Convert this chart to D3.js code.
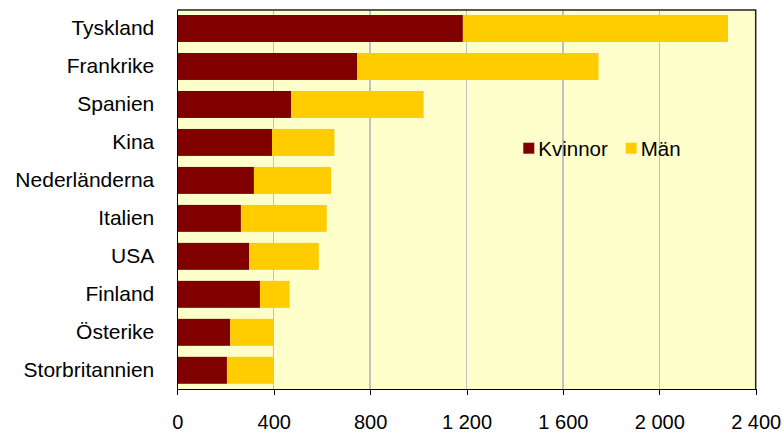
<!DOCTYPE html>
<meta charset="utf-8">
<style>
body {
  margin: 0;
  background-color: #FFFFFF;
}
.axis text {
  font-family: "Liberation Sans", Arial, sans-serif;
  font-size: 20px;
  fill: #000;
}
.axis path,
.axis line {
  stroke: #000;
  shape-rendering: crispEdges;
}
.grid line {
  stroke: #C0C0C0;
  stroke-width: 1.5px;
  shape-rendering: crispEdges;
}
.legend text {
  font-family: "Liberation Sans", Arial, sans-serif;
  font-size: 20.5px;
  fill: #000;
}
</style>
<body>
<script src="https://d3js.org/d3.v7.min.js"></script>
<script>
// countries top to bottom
var countries = ["Tyskland", "Frankrike", "Spanien", "Kina", "Nederländerna", "Italien", "USA", "Finland", "Österike", "Storbritannien"];
var kvinnor = [1185, 746, 472, 393, 318, 264, 298, 343, 220, 206];
var man = [1100, 1002, 550, 259, 320, 356, 289, 123, 181, 191];
var seriesNames = ["Kvinnor", "Män"];
var seriesColors = ["#800000", "#FFCC00"];
var xTicks = [0, 400, 800, 1200, 1600, 2000, 2400];

var svg = d3.select("body")
    .append("svg")
    .attr("width", 782)
    .attr("height", 437),
    margin = {top: 9.5, right: 26.3, bottom: 47.7, left: 177.3},
    width = 782 - margin.left - margin.right,
    height = 437 - margin.top - margin.bottom;

var g = svg.append("g")
    .attr("transform", "translate(" + margin.left + "," + margin.top + ")");

var x = d3.scaleLinear().domain([0, 2400]).range([0, width]);
var y = d3.scaleBand().domain(countries).range([0, height]).paddingInner(0.29).paddingOuter(0.145);

var data = countries.map(function(c, i) {
  return {country: c, Kvinnor: kvinnor[i], "Män": man[i]};
});
var stacked = d3.stack().keys(seriesNames)(data);

// plot background
g.append("rect")
    .attr("width", width)
    .attr("height", height)
    .attr("fill", "#FFFFCC");

// gridlines
g.append("g")
    .attr("class", "grid")
    .selectAll("line")
    .data(xTicks.slice(1, -1))
    .enter().append("line")
    .attr("x1", function(d) { return x(d); })
    .attr("x2", function(d) { return x(d); })
    .attr("y1", 0)
    .attr("y2", height);

// bars
g.selectAll(".series")
    .data(stacked)
    .enter().append("g")
    .attr("class", "series")
    .attr("fill", function(d, i) { return seriesColors[i]; })
  .selectAll("rect")
    .data(function(d) { return d; })
    .enter().append("rect")
    .attr("x", function(d) { return x(d[0]); })
    .attr("width", function(d) { return x(d[1]) - x(d[0]); })
    .attr("y", function(d) { return y(d.data.country); })
    .attr("height", y.bandwidth());

// frame top/right
g.append("path")
    .attr("d", "M0,0.5H" + width + "V" + height)
    .attr("fill", "none")
    .attr("stroke", "#222")
    .attr("stroke-width", 1.5);

g.append("g")
    .attr("class", "axis axis--x")
    .attr("transform", "translate(0," + height + ")")
    .call(d3.axisBottom(x)
      .tickValues(xTicks)
      .tickSize(6)
      .tickSizeOuter(0)
      .tickPadding(20)
      .tickFormat(function(d) { return d3.format(",")(d).replace(",", " "); }));

g.append("g")
    .attr("class", "axis axis--y")
    .call(d3.axisLeft(y).tickSize(0).tickPadding(23).tickSizeOuter(0))
  .selectAll("text")
    .style("font-size", "21px");

// legend
var legend = g.append("g")
    .attr("class", "legend")
    .attr("transform", "translate(" + (523.3 - margin.left) + "," + (142.7 - margin.top) + ")");

var legendX = [0, 102.4];
seriesNames.forEach(function(name, i) {
  legend.append("rect")
      .attr("x", legendX[i])
      .attr("y", 0)
      .attr("width", 11)
      .attr("height", 11)
      .attr("fill", seriesColors[i]);
  legend.append("text")
      .attr("x", legendX[i] + 15)
      .attr("y", 13)
      .text(name);
});
</script>
</body>
